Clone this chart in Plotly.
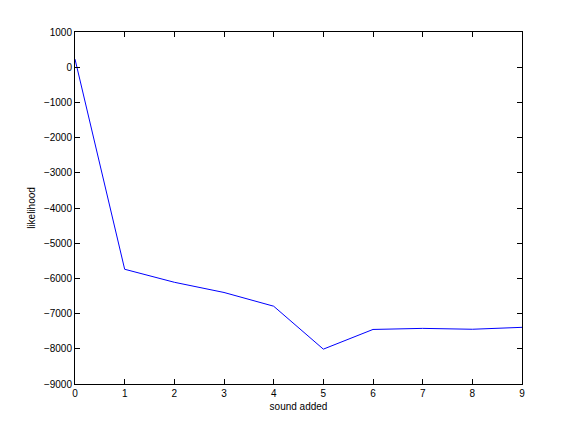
import plotly.graph_objects as go

sounds_added = [0, 1, 2, 3, 4, 5, 6, 7, 8, 9]
likelihood = [230, -5740, -6110, -6400, -6790, -8010, -7450, -7420, -7445, -7390]

fig = go.Figure()
fig.add_trace(go.Scatter(x=sounds_added, y=likelihood, mode="lines",
                         line=dict(color="#0000ff", width=1)))

axis_common = dict(showgrid=False, zeroline=False, showline=True, linecolor="black",
                   linewidth=1, mirror="ticks", ticks="inside", ticklen=5,
                   tickcolor="black", tickfont=dict(size=10, color="black"))

fig.update_layout(
    width=576, height=432,
    margin=dict(l=67, r=62, t=24, b=56),
    paper_bgcolor="white", plot_bgcolor="white",
    font=dict(family="Liberation Sans, Arial, sans-serif", size=10, color="black"),
    showlegend=False,
    xaxis=dict(range=[0, 9], tickmode="linear", tick0=0, dtick=1,
               title=dict(text="sound added", font=dict(size=10), standoff=4),
               **axis_common),
    yaxis=dict(range=[-9000, 1000], tickmode="linear", tick0=-9000, dtick=1000,
               title=dict(text="likelihood", font=dict(size=10), standoff=6),
               **axis_common),
)

fig.write_html("out.html")
